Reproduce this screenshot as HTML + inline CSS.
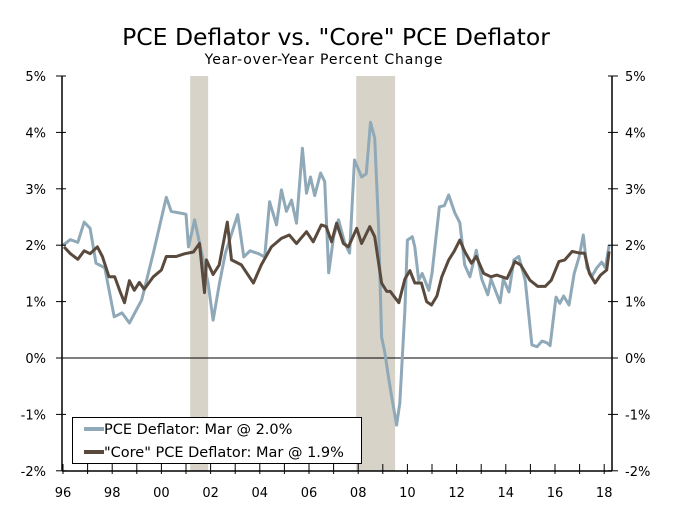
<!DOCTYPE html>
<html><head><meta charset="utf-8"><style>
body{margin:0;background:#fff;}
svg text{font-family:"DejaVu Sans","Liberation Sans",sans-serif;fill:#000;}
</style></head><body>
<svg width="690" height="508" viewBox="0 0 690 508" xmlns="http://www.w3.org/2000/svg">
<text x="336" y="45" text-anchor="middle" font-size="23.5">PCE Deflator vs. "Core" PCE Deflator</text>
<text x="324" y="64" text-anchor="middle" font-size="14" letter-spacing="0.9">Year-over-Year Percent Change</text>
<g id="rec"></g>
<g id="grid"></g>
<g id="lines"></g>
<g id="axes"></g>
<g>
<rect x="72.5" y="417.5" width="289" height="46" fill="#fff" stroke="#000"/>
<line x1="84" y1="429" x2="104" y2="429" stroke="#8fa9b8" stroke-width="4"/>
<text x="104" y="434" font-size="14.5">PCE Deflator: Mar @ 2.0%</text>
<line x1="84" y1="452" x2="104" y2="452" stroke="#5a4a3e" stroke-width="4"/>
<text x="104" y="457" font-size="14.5">"Core" PCE Deflator: Mar @ 1.9%</text>
</g>
</svg>
<script>
const pceDates=[1996.0,1996.3,1996.6,1996.86,1997.1,1997.34,1997.7,1998.08,1998.4,1998.7,1999.2,1999.67,2000.2,2000.4,2001.0,2001.1,2001.35,2001.9,2002.1,2002.35,2002.6,2003.1,2003.35,2003.6,2003.95,2004.2,2004.4,2004.68,2004.88,2005.08,2005.29,2005.49,2005.73,2005.9,2006.06,2006.23,2006.47,2006.64,2006.8,2007.0,2007.2,2007.45,2007.65,2007.85,2008.14,2008.33,2008.5,2008.67,2008.83,2008.95,2009.08,2009.23,2009.36,2009.56,2009.69,2009.9,2010.0,2010.2,2010.3,2010.46,2010.6,2010.87,2011.0,2011.3,2011.5,2011.68,2011.93,2012.13,2012.33,2012.54,2012.8,2013.02,2013.27,2013.4,2013.77,2013.9,2014.13,2014.33,2014.53,2014.79,2015.06,2015.27,2015.47,2015.67,2015.8,2016.04,2016.2,2016.35,2016.57,2016.78,2016.98,2017.15,2017.3,2017.5,2017.7,2017.9,2018.05,2018.2];
const pceValues=[2.0,2.1,2.05,2.41,2.3,1.68,1.6,0.73,0.8,0.62,1.03,1.86,2.85,2.6,2.55,1.97,2.45,1.33,0.67,1.3,1.86,2.54,1.79,1.9,1.85,1.79,2.77,2.36,2.98,2.6,2.8,2.39,3.72,2.92,3.21,2.88,3.28,3.13,1.51,2.15,2.45,2.04,1.86,3.51,3.21,3.27,4.18,3.9,2.32,0.37,0.1,-0.34,-0.69,-1.19,-0.8,0.85,2.09,2.15,1.97,1.38,1.5,1.2,1.5,2.68,2.7,2.89,2.57,2.4,1.65,1.44,1.91,1.4,1.12,1.4,0.98,1.4,1.17,1.74,1.8,1.38,0.23,0.2,0.3,0.27,0.22,1.08,0.97,1.1,0.94,1.5,1.79,2.18,1.6,1.45,1.6,1.7,1.6,2.0];
const coreDates=[1996.04,1996.3,1996.6,1996.86,1997.1,1997.4,1997.6,1997.87,1998.1,1998.3,1998.5,1998.7,1998.9,1999.1,1999.3,1999.67,2000.0,2000.2,2000.6,2000.95,2001.3,2001.55,2001.75,2001.83,2002.1,2002.35,2002.68,2002.85,2003.25,2003.74,2004.06,2004.47,2004.88,2005.2,2005.49,2005.9,2006.17,2006.5,2006.7,2006.92,2007.12,2007.4,2007.6,2007.94,2008.14,2008.47,2008.67,2008.95,2009.16,2009.3,2009.65,2009.9,2010.1,2010.3,2010.57,2010.78,2010.98,2011.2,2011.4,2011.68,2011.9,2012.13,2012.33,2012.6,2012.8,2013.1,2013.4,2013.63,2014.05,2014.37,2014.6,2014.98,2015.3,2015.6,2015.85,2016.16,2016.4,2016.7,2017.0,2017.2,2017.4,2017.63,2017.85,2018.1,2018.2];
const coreValues=[1.97,1.85,1.75,1.9,1.85,1.97,1.8,1.44,1.44,1.2,0.98,1.37,1.2,1.34,1.22,1.44,1.56,1.8,1.8,1.85,1.88,2.03,1.16,1.74,1.48,1.65,2.41,1.74,1.65,1.33,1.65,1.97,2.12,2.18,2.03,2.24,2.06,2.36,2.33,2.06,2.39,2.03,1.97,2.3,2.03,2.33,2.15,1.33,1.18,1.18,0.98,1.4,1.55,1.33,1.33,1.0,0.94,1.1,1.44,1.74,1.89,2.09,1.89,1.68,1.8,1.5,1.44,1.47,1.41,1.71,1.65,1.38,1.27,1.27,1.38,1.71,1.74,1.89,1.86,1.86,1.5,1.33,1.47,1.56,1.89];
const recessions=[[2001.17,2001.9],[2007.92,2009.5]];
const yTicks=[5,4,3,2,1,0,-1,-2];
const yTickLabels=["5%","4%","3%","2%","1%","0%","-1%","-2%"];
const xLabelYears=[1996,1998,2000,2002,2004,2006,2008,2010,2012,2014,2016,2018];
const xLabels=["96","98","00","02","04","06","08","10","12","14","16","18"];

const L=62,R=612,T=76,B=471;
const X=t=>63+(t-1996)*24.6;
const Y=v=>358-v*56.4;
const NS="http://www.w3.org/2000/svg";
function mk(tag,attrs,parent){const e=document.createElementNS(NS,tag);for(const k in attrs)e.setAttribute(k,attrs[k]);document.getElementById(parent).appendChild(e);return e;}

recessions.forEach((r,i)=>{
 const e=mk('rect',{x:X(r[0]),y:T,width:X(r[1])-X(r[0]),height:B-T,fill:'#d7d3c8'},'rec');
 
 
});
const z=mk('line',{x1:L,x2:R,y1:Y(0),y2:Y(0),stroke:'#000','stroke-width':1},'grid');



function path(d,v){return d.map((t,i)=>(i?'L':'M')+X(t).toFixed(1)+' '+Y(v[i]).toFixed(1)).join(' ');}
const p1=mk('path',{d:path(pceDates,pceValues),fill:'none',stroke:'#8fa9b8','stroke-width':3,'stroke-linejoin':'round'},'lines');


const p2=mk('path',{d:path(coreDates,coreValues),fill:'none',stroke:'#5a4a3e','stroke-width':3,'stroke-linejoin':'round'},'lines');



const ax=[[L,T,L,B],[R,T,R,B],[L,B,R,B]];
ax.forEach(a=>{const e=mk('line',{x1:a[0],y1:a[1],x2:a[2],y2:a[3],stroke:'#000','stroke-width':1.5},'axes');
 
 });
yTicks.forEach((v,i)=>{
 mk('line',{x1:L-6,x2:L+4,y1:Y(v),y2:Y(v),stroke:'#000'},'axes');
 mk('line',{x1:R-4,x2:R+6,y1:Y(v),y2:Y(v),stroke:'#000'},'axes');
 const t1=mk('text',{x:46,y:Y(v)+5,'text-anchor':'end','font-size':13},'axes');t1.textContent=yTickLabels[i];
 
 
 const t2=mk('text',{x:625,y:Y(v)+5,'font-size':13},'axes');t2.textContent=yTickLabels[i];
 
 
});
for(let y=1996;y<=2018;y++){mk('line',{x1:X(y),x2:X(y),y1:B-7,y2:B+3,stroke:'#000'},'axes');}
xLabelYears.forEach((y,i)=>{
 const t=mk('text',{x:X(y),y:497,'text-anchor':'middle','font-size':13},'axes');t.textContent=xLabels[i];
 
 
});
</script>
</body></html>
